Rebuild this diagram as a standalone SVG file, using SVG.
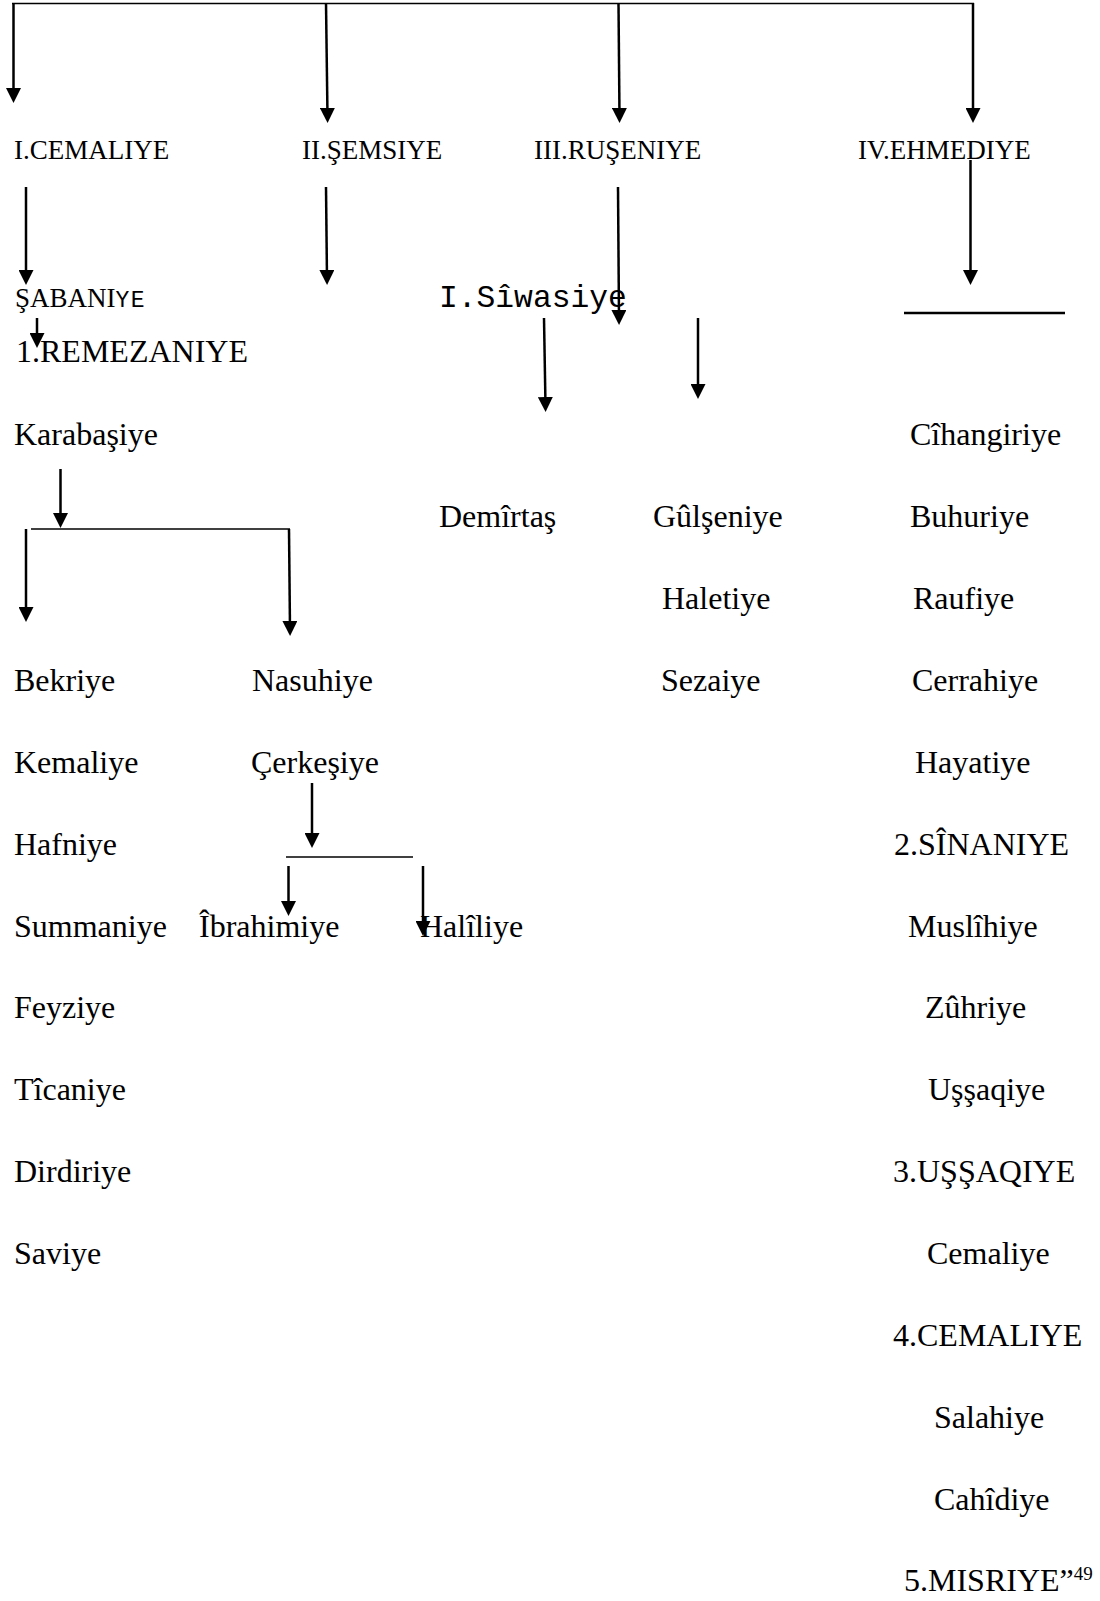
<svg xmlns="http://www.w3.org/2000/svg" width="1100" height="1601" viewBox="0 0 1100 1601">
<style>
text{font-family:"Liberation Serif","Times New Roman",serif;fill:#000}
.h{font-size:27px}
.b{font-size:32px}
.m{font-family:"Liberation Mono","Courier New",monospace}
.c line{stroke:#000;stroke-width:2.5;fill:none}
.c line.ar{marker-end:url(#ah)}
.c line.t{stroke-width:1.5}
.c line.u{stroke-width:2.5}
</style>
<defs>
<marker id="ah" markerUnits="userSpaceOnUse" viewBox="0 -7.5 15 15" markerWidth="15" markerHeight="15" refX="9" refY="0" orient="auto">
<path d="M0,-7.5 L15,0 L0,7.5 z" fill="#000"/>
</marker>
</defs>
<rect width="1100" height="1601" fill="#fff"/>
<g class="c" id="connectors">
<line class="t" x1="12" y1="3.5" x2="974" y2="3.5"/>
<line class="ar" x1="13.5" y1="3" x2="13.5" y2="97"/>
<line class="ar" x1="326" y1="3" x2="327.5" y2="117"/>
<line class="ar" x1="618.5" y1="3" x2="619.5" y2="117"/>
<line class="ar" x1="973" y1="3" x2="973" y2="117"/>
<line class="ar" x1="26" y1="187" x2="26" y2="279"/>
<line class="ar" x1="326" y1="187" x2="327" y2="279"/>
<line class="ar" x1="618" y1="187" x2="619" y2="319"/>
<line class="ar" x1="970.5" y1="160" x2="970.5" y2="279"/>
<line class="u" x1="904" y1="313" x2="1065" y2="313"/>
<line class="ar" x1="37" y1="318" x2="37" y2="342"/>
<line class="ar" x1="544" y1="318" x2="545.5" y2="406"/>
<line class="ar" x1="698" y1="318" x2="698" y2="393"/>
<line class="ar" x1="60.5" y1="469" x2="60.5" y2="522"/>
<line class="t" x1="31" y1="529" x2="290" y2="529"/>
<line class="ar" x1="26" y1="529" x2="26" y2="616"/>
<line class="ar" x1="289" y1="529" x2="290" y2="630"/>
<line class="ar" x1="312" y1="783" x2="312" y2="842"/>
<line class="t" x1="286" y1="857" x2="413" y2="857"/>
<line class="ar" x1="288.5" y1="866" x2="288.5" y2="910"/>
<line class="ar" x1="423" y1="866" x2="423" y2="930"/>
</g>
<g id="n-cemaliye1"><text class="h" x="14" y="159">I.CEMALIYE</text></g>
<g id="n-semsiye"><text class="h" x="302" y="159">II.ŞEMSIYE</text></g>
<g id="n-ruseniye"><text class="h" x="534" y="159">III.RUŞENIYE</text></g>
<g id="n-ehmediye"><text class="h" x="858" y="159">IV.EHMEDIYE</text></g>
<g id="n-sabaniye"><text class="h" x="15" y="307">ŞABANI<tspan class="m" font-size="23" letter-spacing="1.5">YE</tspan></text></g>
<g id="n-siwasiye"><text class="m" font-size="31.3" x="439" y="307">I.Sîwasiye</text></g>
<g id="n-remezaniye"><text class="b" x="16" y="362">1.REMEZANIYE</text></g>
<g id="n-karabasiye"><text class="b" x="14" y="445">Karabaşiye</text></g>
<g id="n-cihangiriye"><text class="b" x="910" y="445">Cîhangiriye</text></g>
<g id="n-demirtas"><text class="b" x="439" y="527">Demîrtaş</text></g>
<g id="n-gulseniye"><text class="b" x="653" y="527">Gûlşeniye</text></g>
<g id="n-buhuriye"><text class="b" x="910" y="527">Buhuriye</text></g>
<g id="n-haletiye"><text class="b" x="662" y="609">Haletiye</text></g>
<g id="n-raufiye"><text class="b" x="913" y="609">Raufiye</text></g>
<g id="n-bekriye"><text class="b" x="14" y="691">Bekriye</text></g>
<g id="n-nasuhiye"><text class="b" x="252" y="691">Nasuhiye</text></g>
<g id="n-sezaiye"><text class="b" x="661" y="691">Sezaiye</text></g>
<g id="n-cerrahiye"><text class="b" x="912" y="691">Cerrahiye</text></g>
<g id="n-kemaliye"><text class="b" x="14" y="773">Kemaliye</text></g>
<g id="n-cerkesiye"><text class="b" x="251" y="773">Çerkeşiye</text></g>
<g id="n-hayatiye"><text class="b" x="915" y="773">Hayatiye</text></g>
<g id="n-hafniye"><text class="b" x="14" y="855">Hafniye</text></g>
<g id="n-sinaniye"><text class="b" x="894" y="855">2.SÎNANIYE</text></g>
<g id="n-summaniye"><text class="b" x="14" y="937">Summaniye</text></g>
<g id="n-ibrahimiye"><text class="b" x="199" y="937">Îbrahimiye</text></g>
<g id="n-haliliye"><text class="b" x="420" y="937">Halîliye</text></g>
<g id="n-muslihiye"><text class="b" x="908" y="937">Muslîhiye</text></g>
<g id="n-feyziye"><text class="b" x="14" y="1018">Feyziye</text></g>
<g id="n-zuhriye"><text class="b" x="925" y="1018">Zûhriye</text></g>
<g id="n-ticaniye"><text class="b" x="14" y="1100">Tîcaniye</text></g>
<g id="n-ussaqiye"><text class="b" x="928" y="1100">Uşşaqiye</text></g>
<g id="n-dirdiriye"><text class="b" x="14" y="1182">Dirdiriye</text></g>
<g id="n-ussaqiye3"><text class="b" x="893" y="1182">3.UŞŞAQIYE</text></g>
<g id="n-saviye"><text class="b" x="14" y="1264">Saviye</text></g>
<g id="n-cemaliye"><text class="b" x="927" y="1264">Cemaliye</text></g>
<g id="n-cemaliye4"><text class="b" x="893" y="1346">4.CEMALIYE</text></g>
<g id="n-salahiye"><text class="b" x="934" y="1428">Salahiye</text></g>
<g id="n-cahidiye"><text class="b" x="934" y="1510">Cahîdiye</text></g>
<g id="n-misriye"><text class="b" x="904" y="1591">5.MISRIYE”<tspan font-size="19" dy="-11">49</tspan></text></g>
</svg>
